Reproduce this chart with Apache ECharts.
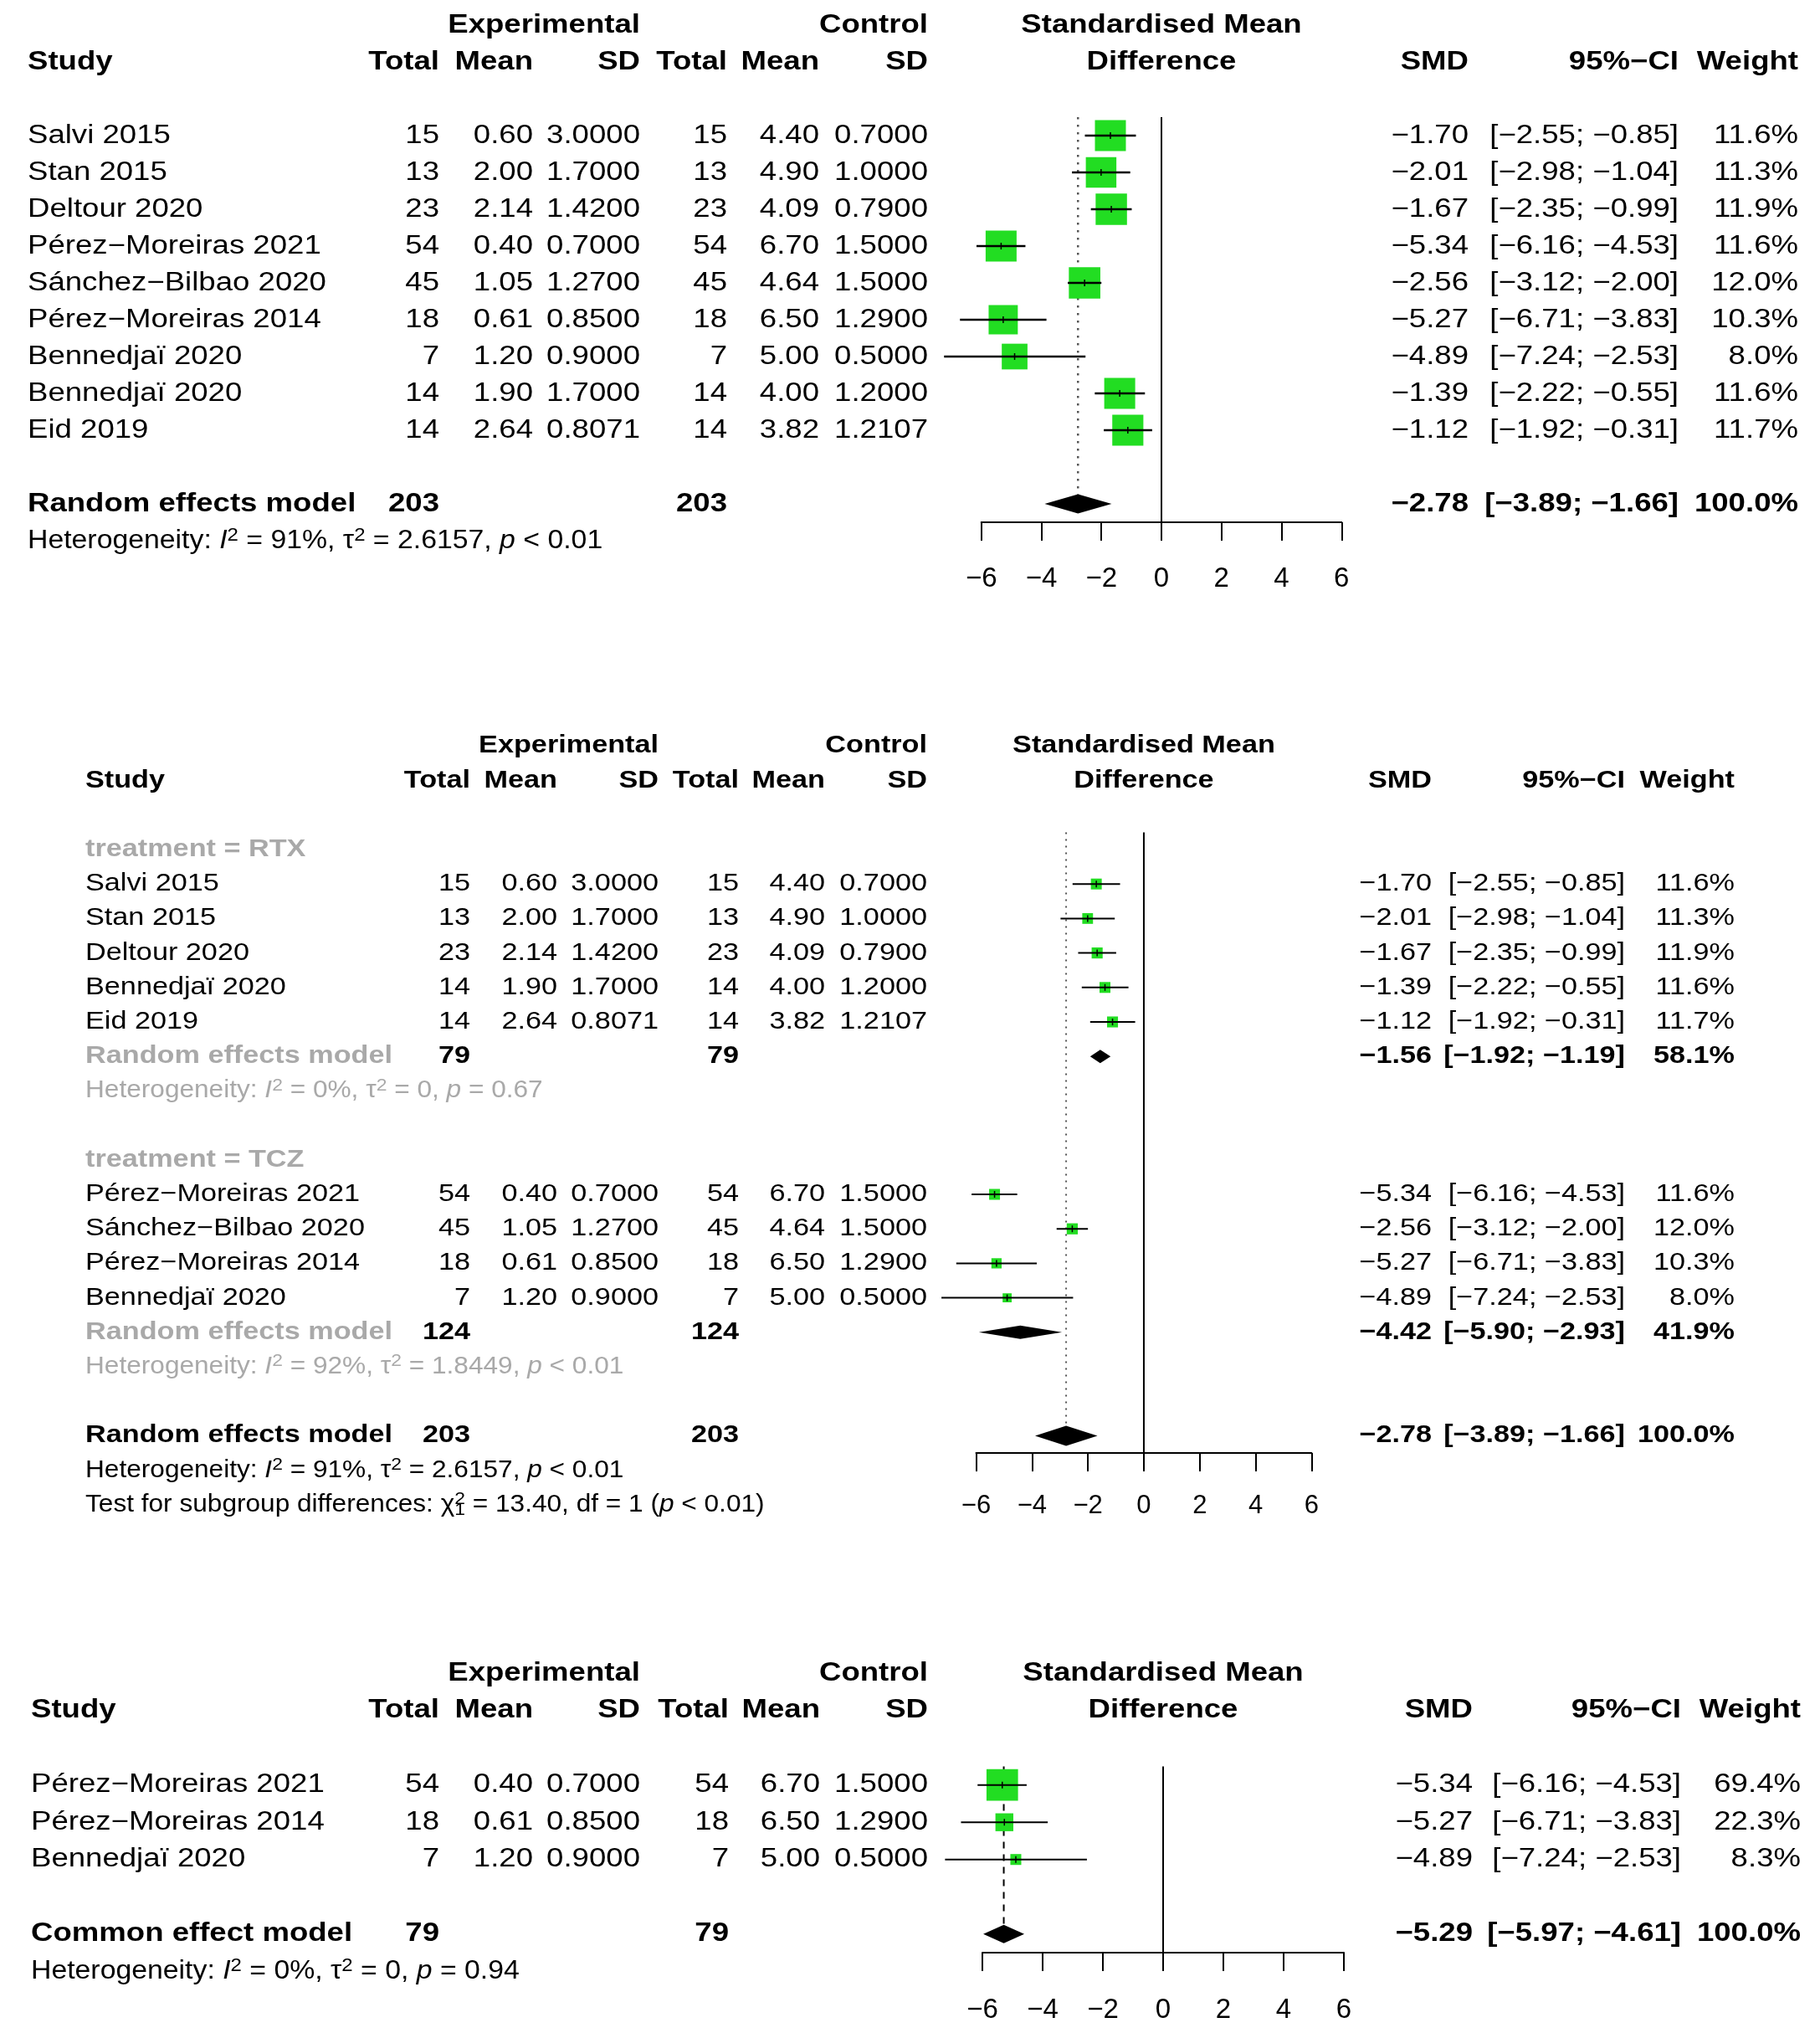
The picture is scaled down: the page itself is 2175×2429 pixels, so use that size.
<!DOCTYPE html>
<html><head><meta charset="utf-8">
<script src="https://cdn.jsdelivr.net/npm/echarts@6/dist/echarts.min.js"></script>
<style>html,body{margin:0;padding:0;background:#fff}#c{width:2175px;height:2429px}</style>
</head><body><div id="c"></div>
<script>
// ---------------- DATA ----------------
const studies = ['Salvi 2015','Stan 2015','Deltour 2020','Pérez−Moreiras 2021','Sánchez−Bilbao 2020','Pérez−Moreiras 2014','Bennedjaï 2020','Bennedjaï 2020','Eid 2019'];
const expTotal = [15,13,23,54,45,18,7,14,14];
const expMean = [0.60,2.00,2.14,0.40,1.05,0.61,1.20,1.90,2.64];
const expSD = [3.0000,1.7000,1.4200,0.7000,1.2700,0.8500,0.9000,1.7000,0.8071];
const ctlTotal = [15,13,23,54,45,18,7,14,14];
const ctlMean = [4.40,4.90,4.09,6.70,4.64,6.50,5.00,4.00,3.82];
const ctlSD = [0.7000,1.0000,0.7900,1.5000,1.5000,1.2900,0.5000,1.2000,1.2107];
const smd = [-1.70,-2.01,-1.67,-5.34,-2.56,-5.27,-4.89,-1.39,-1.12];
const ciLow = [-2.55,-2.98,-2.35,-6.16,-3.12,-6.71,-7.24,-2.22,-1.92];
const ciHigh = [-0.85,-1.04,-0.99,-4.53,-2.00,-3.83,-2.53,-0.55,-0.31];
const weight = [11.6,11.3,11.9,11.6,12.0,10.3,8.0,11.6,11.7];

const rtxStudies = [0,1,2,7,8];
const tczStudies = [3,4,5,6];
const panel3Studies = [3,5,6];
const panel3Weight = [69.4,22.3,8.3];

// pooled results: 0 overall random, 1 RTX subgroup, 2 TCZ subgroup, 3 common effect (panel 3)
const pooledLabel = ['Random effects model','Random effects model','Random effects model','Common effect model'];
const pooledTotal = [203,79,124,79];
const pooledSMD = [-2.78,-1.56,-4.42,-5.29];
const pooledLow = [-3.89,-1.92,-5.90,-5.97];
const pooledHigh = [-1.66,-1.19,-2.93,-4.61];
const pooledWeight = [100.0,58.1,41.9,100.0];
const hetI2 = ['91%','0%','92%','0%'];
const hetTau2 = ['2.6157','0','1.8449','0'];
const hetP = ['< 0.01','= 0.67','< 0.01','= 0.94'];
const subgroupChi2 = '13.40';
const subgroupDf = 1;
const subgroupP = '< 0.01';
const axisTicks = [-6,-4,-2,0,2,4,6];

// ---------------- STYLE / LAYOUT ----------------
const FONT = '"Liberation Sans", Arial, sans-serif';
const SX = 1.18;
const SX_HET = 1.09;
const GREEN = '#22dd22';
const GRAY = '#a9a9a9';

const panels = [
  { top0: 162, unit: 44, rowMin: -0.5, rowMax: 10.5, x0: 1172.7, x1: 1603.3, fs: 31, afs: 33,
    cols: {study:33, expTotal:525, expMean:637, expSD:765, ctlTotal:869, ctlMean:979, ctlSD:1109, smd:1755, ci:2006, weight:2149},
    sqK: 37/Math.sqrt(11.6), ciW: 2.5, cross: 4, labelMargin: 51 },
  { top0: 1015, unit: 41.2, rowMin: -0.5, rowMax: 17.5, x0: 1166.5, x1: 1567.4, fs: 29, afs: 31,
    cols: {study:102, expTotal:562, expMean:666, expSD:787, ctlTotal:883, ctlMean:986, ctlSD:1108, smd:1711, ci:1942, weight:2073},
    sqK: 13/Math.sqrt(11.6), ciW: 2, cross: 4, labelMargin: 48 },
  { top0: 2132.7, unit: 44.5, rowMin: -0.5, rowMax: 4.5, x0: 1174, x1: 1606, fs: 31, afs: 33,
    cols: {study:37, expTotal:525, expMean:637, expSD:765, ctlTotal:871, ctlMean:980, ctlSD:1109, smd:1760, ci:2009, weight:2152},
    sqK: 37.7/Math.sqrt(69.4), ciW: 2, cross: 4, labelMargin: 52 }
];

// ---------------- ROW BUILDERS ----------------
function fmt(v, d) { return v.toFixed(d).replace('-', '−'); }
function ciText(lo, hi) { return '[' + fmt(lo,2) + '; ' + fmt(hi,2) + ']'; }
function cell(col, text, o) { return Object.assign({col, text}, o || {}); }
const B = {bold: true};

function headerRows() {
  return [
    {row: -3, cells: [cell('expSD','Experimental',B), cell('ctlSD','Control',B), cell('x0','Standardised Mean',{bold:true, align:'center'})]},
    {row: -2, cells: [cell('study','Study',{bold:true, align:'left'}), cell('expTotal','Total',B), cell('expMean','Mean',B), cell('expSD','SD',B),
      cell('ctlTotal','Total',B), cell('ctlMean','Mean',B), cell('ctlSD','SD',B), cell('x0','Difference',{bold:true, align:'center'}),
      cell('smd','SMD',B), cell('ci','95%−CI',B), cell('weight','Weight',B)]}
  ];
}
function studyRow(i, row, w) {
  return {row, cells: [
    cell('study', studies[i], {align:'left'}),
    cell('expTotal', String(expTotal[i])), cell('expMean', fmt(expMean[i],2)), cell('expSD', fmt(expSD[i],4)),
    cell('ctlTotal', String(ctlTotal[i])), cell('ctlMean', fmt(ctlMean[i],2)), cell('ctlSD', fmt(ctlSD[i],4)),
    cell('smd', fmt(smd[i],2)), cell('ci', ciText(ciLow[i], ciHigh[i])), cell('weight', w.toFixed(1) + '%')
  ], mark: {type:'sq', est: smd[i], lo: ciLow[i], hi: ciHigh[i], w}};
}
function pooledRow(k, row, labelColor, half) {
  return {row, cells: [
    cell('study', pooledLabel[k], {bold:true, align:'left', color: labelColor}),
    cell('expTotal', String(pooledTotal[k]), B), cell('ctlTotal', String(pooledTotal[k]), B),
    cell('smd', fmt(pooledSMD[k],2), B), cell('ci', ciText(pooledLow[k], pooledHigh[k]), B),
    cell('weight', pooledWeight[k].toFixed(1) + '%', B)
  ], mark: {type:'dia', est: pooledSMD[k], lo: pooledLow[k], hi: pooledHigh[k], half}};
}
function hetRow(k, row, color) {
  return {row, cells: [cell('study', 'Heterogeneity: {i|I}{s|2} = ' + hetI2[k] + ', τ{s|2} = ' + hetTau2[k] + ', {i|p} ' + hetP[k], {align:'left', color, rich:true})]};
}
function labelRow(text, row) { return {row, cells: [cell('study', text, {bold:true, align:'left', color: GRAY})]}; }

// Panel 1
panels[0].items = [{refs: {x: pooledSMD[0], toRow: 10, gap: 11.5, color:'#555', lw: 2.5, dash: [2.5, 6.5]}}]
  .concat(headerRows())
  .concat(studies.map((s, i) => studyRow(i, i, weight[i])))
  .concat([pooledRow(0, 10, '#000', 11.5), hetRow(0, 11, '#000')]);

// Panel 2
panels[1].items = [{refs: {x: pooledSMD[0], toRow: 17, gap: 12, color:'#555', lw: 2, dash: [2, 6]}}]
  .concat(headerRows())
  .concat([labelRow('treatment = RTX', 0)])
  .concat(rtxStudies.map((i, j) => studyRow(i, 1 + j, weight[i])))
  .concat([pooledRow(1, 6, GRAY, 8), hetRow(1, 7, GRAY)])
  .concat([labelRow('treatment = TCZ', 9)])
  .concat(tczStudies.map((i, j) => studyRow(i, 10 + j, weight[i])))
  .concat([pooledRow(2, 14, GRAY, 8), hetRow(2, 15, GRAY)])
  .concat([pooledRow(0, 17, '#000', 12), hetRow(0, 18, '#000'),
    {row: 19, cells: [cell('study', 'Test for subgroup differences: χ{s0|2}{b|' + subgroupDf + '} = ' + subgroupChi2 + ', df = ' + subgroupDf + ' ({i|p} ' + subgroupP + ')', {align:'left', rich:true})]}]);

// Panel 3
panels[2].items = [{refs: {x: pooledSMD[3], toRow: 4, gap: 11, color:'#000', lw: 2, dash: [8, 7]}}]
  .concat(headerRows())
  .concat(panel3Studies.map((i, j) => studyRow(i, j, panel3Weight[j])))
  .concat([pooledRow(3, 4, '#000', 11), hetRow(3, 5, '#000')]);

// ---------------- RENDER ----------------
function lineEl(x1, y1, x2, y2, color, lw, dash) {
  return {type:'line', silent:true, shape:{x1, y1, x2, y2}, style:{stroke: color, lineWidth: lw, lineDash: dash || null}};
}
function textEl(x, y, c, fs) {
  const color = c.color || '#000';
  const style = {
    text: c.text, fill: color, fontSize: fs, fontFamily: FONT, fontWeight: c.bold ? 'bold' : 'normal',
    textAlign: c.align || 'right', textVerticalAlign: 'middle', align: c.align || 'right', verticalAlign: 'middle'
  };
  let sx = SX;
  if (c.rich) {
    sx = SX_HET;
    const sfs = Math.round(fs * 0.72);
    style.lineHeight = 34;
    style.rich = {
      i: {fontStyle:'italic', fontSize: fs, fontFamily: FONT, fill: color, lineHeight: 34},
      s: {fontSize: sfs, fontFamily: FONT, fill: color, lineHeight: 12, verticalAlign: 'top'},
      s0: {fontSize: sfs, fontFamily: FONT, fill: color, lineHeight: 12, verticalAlign: 'top', width: 0},
      b: {fontSize: sfs, fontFamily: FONT, fill: color, lineHeight: 12, verticalAlign: 'bottom'}
    };
  }
  return {type:'text', silent:true, x, y, scaleX: sx, style};
}
function makeRender(p) {
  return function (params, api) {
    const it = p.items[params.dataIndex];
    const ch = [];
    if (it.refs) {
      const a = api.coord([0, p.rowMin]), b = api.coord([0, p.rowMax]);
      const r = it.refs;
      const c = api.coord([r.x, p.rowMin]), d = api.coord([r.x, r.toRow]);
      ch.push(lineEl(c[0], c[1], d[0], d[1] - r.gap, r.color, r.lw, r.dash));
      ch.push(lineEl(a[0], a[1], b[0], b[1], '#000', 2));
      return {type:'group', children: ch};
    }
    const base = api.coord([0, it.row]);
    const y = base[1];
    if (it.mark) {
      const m = it.mark;
      const pe = api.coord([m.est, it.row]), pl = api.coord([m.lo, it.row]), ph = api.coord([m.hi, it.row]);
      if (m.type === 'sq') {
        const s = p.sqK * Math.sqrt(m.w);
        ch.push({type:'rect', silent:true, shape:{x: pe[0] - s/2, y: y - s/2, width: s, height: s}, style:{fill: GREEN}});
        ch.push(lineEl(pl[0], y, ph[0], y, '#000', p.ciW));
        ch.push(lineEl(pe[0], y - p.cross, pe[0], y + p.cross, '#000', 1.5));
      } else {
        ch.push({type:'polygon', silent:true, shape:{points:[[pl[0], y], [pe[0], y - m.half], [ph[0], y], [pe[0], y + m.half]]}, style:{fill:'#000'}});
      }
    }
    it.cells.forEach(c => {
      const x = c.col === 'x0' ? base[0] : p.cols[c.col];
      ch.push(textEl(x, y, c, p.fs));
    });
    return {type:'group', children: ch};
  };
}

const option = {
  animation: false,
  backgroundColor: '#ffffff',
  grid: panels.map(p => ({
    left: p.x0, width: p.x1 - p.x0,
    top: p.top0 + p.rowMin * p.unit, height: (p.rowMax - p.rowMin) * p.unit,
    containLabel: false, outerBoundsMode: 'none'
  })),
  xAxis: panels.map((p, k) => ({
    gridIndex: k, type: 'value', position: 'bottom',
    min: axisTicks[0], max: axisTicks[axisTicks.length - 1], interval: axisTicks[1] - axisTicks[0],
    axisLine: {show: true, onZero: false, lineStyle: {color: '#000', width: 2}},
    axisTick: {show: true, inside: false, length: 22, lineStyle: {color: '#000', width: 2}},
    splitLine: {show: false},
    axisLabel: {show: true, fontSize: p.afs, fontFamily: FONT, color: '#000', margin: p.labelMargin,
      showMinLabel: true, showMaxLabel: true,
      formatter: v => (v < 0 ? '−' : '') + Math.abs(v)}
  })),
  yAxis: panels.map((p, k) => ({
    gridIndex: k, type: 'value', inverse: true, min: p.rowMin, max: p.rowMax, show: false
  })),
  series: panels.map((p, k) => ({
    type: 'custom', xAxisIndex: k, yAxisIndex: k, clip: false, silent: true,
    renderItem: makeRender(p),
    data: p.items.map(it => [0, it.row == null ? 0 : it.row])
  }))
};

const chart = echarts.init(document.getElementById('c'), null, {renderer: 'canvas', width: 2175, height: 2429});
chart.setOption(option);
</script>
</body></html>
